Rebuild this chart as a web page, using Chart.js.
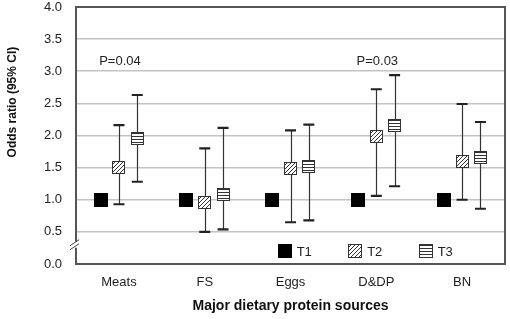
<!DOCTYPE html>
<html>
<head>
<meta charset="utf-8">
<script src="https://cdn.jsdelivr.net/npm/chart.js@4.4.1/dist/chart.umd.min.js"></script>
<style>
  html, body { margin: 0; padding: 0; background: #fff; }
  #wrap { width: 510px; height: 319px; }
</style>
</head>
<body>
<div id="wrap"><canvas id="graphicOdds"></canvas></div>
<script>
// Odds ratio por fuente de proteina (T1 referencia)
const categories = ['Meats', 'FS', 'Eggs', 'D&DP', 'BN'];
const seriesNames = ['T1', 'T2', 'T3'];
const t1OR = [1, 1, 1, 1, 1];
const t2OR = [1.50, 0.96, 1.49, 1.99, 1.60];
const t2Low = [0.93, 0.50, 0.65, 1.06, 1.00];
const t2High = [2.16, 1.80, 2.08, 2.72, 2.49];
const t3OR = [1.96, 1.08, 1.51, 2.15, 1.65];
const t3Low = [1.28, 0.54, 0.68, 1.21, 0.86];
const t3High = [2.63, 2.12, 2.17, 2.94, 2.21];
const pLabels = ['P=0.04', '', '', 'P=0.03', ''];
const pLabelY = 3.15;
const yTitle = 'Odds ratio (95% CI)';

const FONT = 'Arial, "Liberation Sans", sans-serif';

//---PATTERNS
function makeHatch(){
  let c = document.createElement('canvas');
  c.width = 4; c.height = 4;
  let g = c.getContext('2d');
  g.fillStyle = '#fff'; g.fillRect(0, 0, 4, 4);
  g.strokeStyle = '#333'; g.lineWidth = 1;
  g.beginPath();
  g.moveTo(0, 4); g.lineTo(4, 0);
  g.moveTo(-1, 1); g.lineTo(1, -1);
  g.moveTo(3, 5); g.lineTo(5, 3);
  g.stroke();
  return g.createPattern(c, 'repeat');
}
function makeStripes(){
  let c = document.createElement('canvas');
  c.width = 4; c.height = 3;
  let g = c.getContext('2d');
  g.fillStyle = '#fff'; g.fillRect(0, 0, 4, 3);
  g.fillStyle = '#333'; g.fillRect(0, 1, 4, 1);
  return g.createPattern(c, 'repeat');
}

const fills = ['#000', makeHatch(), makeStripes()];
const orValues = [t1OR, t2OR, t3OR];

function drawMarker(ctx, x, y, size, fill, border){
  ctx.save();
  ctx.translate(Math.round(x - size / 2), Math.round(y - size / 2));
  ctx.fillStyle = fill;
  ctx.fillRect(0, 0, size, size);
  if (border) {
    ctx.strokeStyle = '#333';
    ctx.lineWidth = 1;
    ctx.strokeRect(0.5, 0.5, size - 1, size - 1);
  }
  ctx.restore();
}

const oddsPlugin = {
  id: 'oddsPlugin',
  afterDatasetsDraw(chart){
    const ctx = chart.ctx;
    const area = chart.chartArea;
    const yScale = chart.scales.y;
    const xScale = chart.scales.x;

    //---frame top/right
    ctx.save();
    ctx.strokeStyle = '#555';
    ctx.lineWidth = 2;
    ctx.beginPath();
    ctx.moveTo(area.left, area.top);
    ctx.lineTo(area.right, area.top);
    ctx.lineTo(area.right, area.bottom);
    ctx.stroke();

    //---axis break
    let by = yScale.getPixelForValue(0.3);
    ctx.fillStyle = '#fff';
    ctx.fillRect(area.left - 4, by - 3, 8, 6);
    ctx.strokeStyle = '#444';
    ctx.lineWidth = 1;
    ctx.beginPath();
    ctx.moveTo(area.left - 6, by + 1); ctx.lineTo(area.left + 3, by - 5);
    ctx.moveTo(area.left - 6, by + 5); ctx.lineTo(area.left + 3, by - 1);
    ctx.stroke();

    //---y title (sits above the axis middle in the original)
    ctx.save();
    ctx.translate(13, yScale.getPixelForValue(2.52));
    ctx.rotate(-Math.PI / 2);
    ctx.fillStyle = '#111';
    ctx.font = 'bold 12px ' + FONT;
    ctx.textAlign = 'center';
    ctx.textBaseline = 'middle';
    ctx.fillText(yTitle, 0, 0);
    ctx.restore();

    //---error bars + markers
    chart.data.datasets.forEach((ds, di) => {
      const meta = chart.getDatasetMeta(di);
      meta.data.forEach((bar, i) => {
        const x = bar.x;
        const range = ds.data[i];
        if (range[1] > range[0]) {
          const yl = yScale.getPixelForValue(range[0]);
          const yh = yScale.getPixelForValue(range[1]);
          ctx.strokeStyle = '#333';
          ctx.lineWidth = 1.2;
          ctx.beginPath();
          ctx.moveTo(Math.round(x) + 0.5, yl);
          ctx.lineTo(Math.round(x) + 0.5, yh);
          ctx.stroke();
          ctx.lineWidth = 2.2;
          ctx.strokeStyle = '#222';
          ctx.beginPath();
          ctx.moveTo(x - 5.5, yl); ctx.lineTo(x + 5.5, yl);
          ctx.moveTo(x - 5.5, yh); ctx.lineTo(x + 5.5, yh);
          ctx.stroke();
        }
        const ym = yScale.getPixelForValue(orValues[di][i]);
        drawMarker(ctx, x, ym, di === 0 ? 14 : 13, fills[di], di !== 0);
      });
    });

    //---P labels
    ctx.fillStyle = '#222';
    ctx.font = '13px ' + FONT;
    ctx.textAlign = 'center';
    ctx.textBaseline = 'middle';
    pLabels.forEach((t, i) => {
      if (t) ctx.fillText(t, xScale.getPixelForValue(i) + 1, yScale.getPixelForValue(pLabelY));
    });

    //---legend
    let lx = area.left + 0.47 * (area.right - area.left);
    let ly = yScale.getPixelForValue(0.2);
    ctx.textAlign = 'left';
    ctx.font = '13px ' + FONT;
    seriesNames.forEach((name, k) => {
      drawMarker(ctx, lx + 7, ly, 14, fills[k], k !== 0);
      ctx.fillStyle = '#222';
      ctx.fillText(name, lx + 19, ly + 1);
      lx += 70.5;
    });
    ctx.restore();
  }
};

const datasets = [
  { label: 'T1', data: t1OR.map(v => [v, v]) },
  { label: 'T2', data: t2Low.map((v, i) => [v, t2High[i]]) },
  { label: 'T3', data: t3Low.map((v, i) => [v, t3High[i]]) },
].map(d => Object.assign(d, {
  backgroundColor: 'rgba(0,0,0,0)',
  borderWidth: 0,
  categoryPercentage: 0.64,
  barPercentage: 1.0,
}));

let chart1 = new Chart(document.getElementById('graphicOdds').getContext('2d'), {
  type: 'bar',
  data: { labels: categories, datasets: datasets },
  plugins: [oddsPlugin],
  options: {
    responsive: true,
    maintainAspectRatio: false,
    animation: false,
    layout: { padding: { left: 30, right: 5, top: 0, bottom: 2 } },
    plugins: { legend: { display: false }, tooltip: { enabled: false } },
    scales: {
      x: {
        grid: { display: false, drawTicks: false },
        border: { color: '#555', width: 2 },
        ticks: { color: '#222', font: { family: FONT, size: 13 }, padding: 11 },
        title: { display: true, text: 'Major dietary protein sources', color: '#111',
                 font: { family: FONT, size: 14, weight: 'bold' }, padding: { top: 4, bottom: 2 } },
        afterFit: s => { s.height = 53; },
      },
      y: {
        min: 0, max: 4,
        ticks: { stepSize: 0.5, color: '#222', font: { family: FONT, size: 13 }, padding: 14,
                 callback: v => v.toFixed(1) },
        grid: { color: c => (c.tick.value === 0 || c.tick.value === 4) ? 'rgba(0,0,0,0)' : '#c4c4c4',
                lineWidth: 1.6, drawTicks: false },
        border: { color: '#555', width: 2 },
        afterFit: s => { s.paddingTop = 7; },
      }
    }
  }
});
</script>
</body>
</html>
